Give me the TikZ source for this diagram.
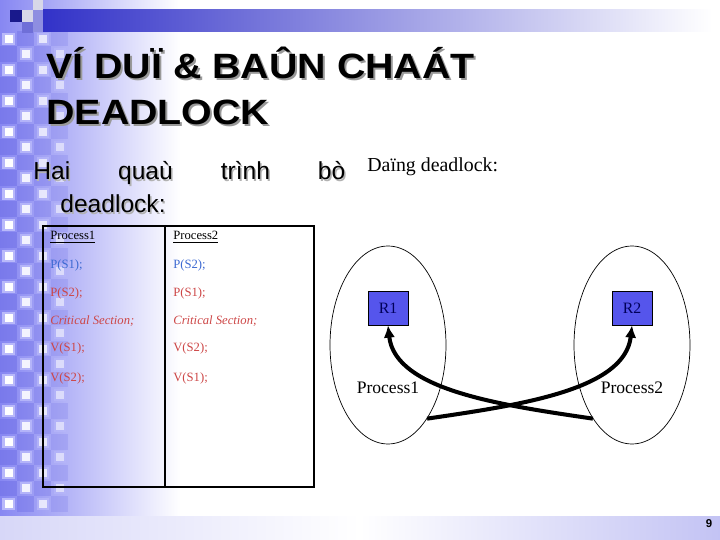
\documentclass[tikz,border=0pt]{standalone}
\usepackage{fontspec}
\setmainfont{Liberation Serif}
\setsansfont{Liberation Sans}
\newfontfamily\headfont[FakeStretch=1.12]{Liberation Sans}
\usetikzlibrary{shapes.geometric,arrows.meta}

\definecolor{barblue}{RGB}{50,50,200}
\definecolor{navyblue}{RGB}{25,25,140}
\definecolor{leftblue}{RGB}{135,135,242}
\definecolor{celldark}{RGB}{105,105,228}
\definecolor{celllight}{RGB}{185,185,250}
\definecolor{cornergrey}{RGB}{215,215,232}
\definecolor{footlav}{RGB}{215,215,248}
\definecolor{footblue}{RGB}{195,195,244}
\definecolor{boxblue}{RGB}{85,85,236}
\definecolor{boxtext}{RGB}{0,0,90}
\definecolor{semblue}{RGB}{60,105,210}
\definecolor{semred}{RGB}{205,70,70}

\begin{document}
\begin{tikzpicture}[x=0.02cm, y=-0.02cm,
    title_style/.style={anchor=base west, align=left, inner sep=0pt, font=\headfont\bfseries\fontsize{20}{26.7}\selectfont},
    body_style/.style={anchor=base west, align=left, inner sep=0pt, font=\sffamily\fontsize{14}{18.8}\selectfont},
    cell_text/.style={anchor=base west, inner sep=0pt, font=\fontsize{7.2}{8}\selectfont},
    proc_style/.style={ellipse, draw, line width=0.4pt, minimum width=2.32cm, minimum height=3.96cm, inner sep=0pt},
    box_style/.style={rectangle, draw, line width=0.4pt, fill=boxblue, text=boxtext, minimum width=0.8cm, minimum height=0.68cm, inner sep=0pt, font=\fontsize{9}{10}\selectfont},
    arrow_style/.style={line width=2.3pt, -{Latex[length=7pt, width=6.5pt]}}
]
\useasboundingbox (0,0) rectangle (720,540);
\fill[white] (0,0) rectangle (720,540);
% Background bands
\shade[left color=leftblue, right color=white] (0,0) rectangle (180,516);
\foreach \j in {2,...,32} {
    \foreach \i [evaluate=\i as \x using {17*(2*\i+mod(\j,2))}] in {0,1} {
        \pgfmathsetmacro\op{1-\x/110}
        \fill[celllight, opacity=\op] (\x+2.5,15.5*\j+1.75) rectangle ++(12,12);
        \fill[white, opacity=\op] (\x+4.5,15.5*\j+3.75) rectangle ++(8,8);
    }
    \foreach \i [evaluate=\i as \x using {17*(2*\i+1-mod(\j,2))}] in {0,1} {
        \pgfmathsetmacro\op{0.45-\x/200}
        \fill[celldark, opacity=\op] (\x,15.5*\j) rectangle ++(17,15.5);
    }
}
\fill[navyblue] (10,10) rectangle (22,22);
\fill[cornergrey] (22,10) rectangle (33,22);
\fill[barblue!70] (22,22) rectangle (33,33);
\fill[cornergrey] (33,0) rectangle (43,10);
\fill[barblue!55] (33,10) rectangle (43,32);
\shade[left color=barblue, right color=white] (43,10) rectangle (712,32);
\shade[left color=footlav, right color=white] (0,516) rectangle (360,540);
\shade[left color=white, right color=footblue] (360,516) rectangle (720,540);
\node[font=\sffamily\bfseries\fontsize{6.5}{7}\selectfont, inner sep=0pt] (page) at (709,524) {9};

% Title and text
\node[title_style, text=black!40] (title_shadow) at (48,127) {VÍ DUÏ \& BAÛN CHAÁT\\DEADLOCK};
\node[title_style] (title) at (46,125) {VÍ DUÏ \& BAÛN CHAÁT\\DEADLOCK};
\node[body_style, text=black!30] (intro_shadow) at (34.5,214.5) {\makebox[6.24cm][s]{Hai quaù trình bò}\\\hspace*{0.54cm}deadlock:};
\node[body_style] (intro) at (33,213) {\makebox[6.24cm][s]{Hai quaù trình bò}\\\hspace*{0.54cm}deadlock:};
\node[anchor=base west, inner sep=0pt, font=\fontsize{11.3}{13}\selectfont] (kind) at (367,172) {Daïng deadlock:};

% Table of the two processes
\node[draw, line width=1.2pt, anchor=north west, minimum width=5.42cm, minimum height=5.22cm, inner sep=0pt] (tbl) at (42,225) {};
\draw[line width=1.2pt] ([xshift=2.46cm]tbl.north west) -- ([xshift=2.46cm]tbl.south west);
\node[cell_text] (h1) at (50,240) {\underline{Process1}};
\node[cell_text] (h2) at (173,240) {\underline{Process2}};
\foreach \pa/\pb/\tcol/\ty [count=\k] in {
    P(S1);/P(S2);/semblue/269,
    P(S2);/P(S1);/semred/297,
    \textit{Critical Section;}/\textit{Critical Section;}/semred/325,
    V(S1);/V(S2);/semred/352,
    V(S2);/V(S1);/semred/381} {
    \node[cell_text, text=\tcol] (a\k) at (50,\ty) {\pa};
    \node[cell_text, text=\tcol] (b\k) at (173,\ty) {\pb};
}

% Deadlock graph
\node[proc_style] (p1) at (388,345) {};
\node[proc_style] (p2) at (632,345) {};
\node[box_style] (r1) at (388,308) {R1};
\node[box_style] (r2) at (632,308) {R2};
\node[font=\fontsize{10}{12}\selectfont] (l1) at (388,388) {Process1};
\node[font=\fontsize{10}{12}\selectfont] (l2) at (632,388) {Process2};
\draw[arrow_style] (p1.-62) .. controls (520,405) and (625,390) .. (r2.south);
\draw[arrow_style] (p2.-118) .. controls (500,405) and (395,390) .. (r1.south);
\end{tikzpicture}
\end{document}
